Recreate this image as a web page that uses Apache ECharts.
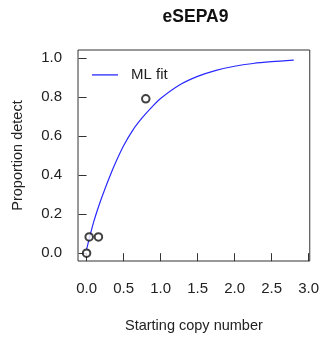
<!DOCTYPE html>
<html>
<head>
<meta charset="utf-8">
<script src="https://cdn.jsdelivr.net/npm/echarts@6/dist/echarts.min.js"></script>
<style>html,body{margin:0;padding:0;background:#fff}#c{width:322px;height:339px}</style>
</head>
<body>
<div id="c"></div>
<script>
var titleText = 'eSEPA9';
var xName = 'Starting copy number';
var yName = 'Proportion detect';
var legendName = 'ML fit';
var obsX = [0, 0.035, 0.16, 0.8];
var obsY = [0, 0.083, 0.083, 0.79];
var fitX = [0, 0.05, 0.1, 0.15, 0.2, 0.3, 0.4, 0.5, 0.625, 0.75, 0.875, 1.0, 1.25, 1.5, 1.75, 2.0, 2.25, 2.5, 2.8];
var fitY = [0.02, 0.095, 0.165, 0.225, 0.28, 0.38, 0.47, 0.55, 0.63, 0.692, 0.745, 0.792, 0.86, 0.905, 0.936, 0.957, 0.971, 0.98, 0.988];
var xTicks = [0, 0.5, 1.0, 1.5, 2.0, 2.5, 3.0];
var yTicks = [0, 0.2, 0.4, 0.6, 0.8, 1.0];

var FONT = 'Liberation Sans, Arial, sans-serif';
var chart = echarts.init(document.getElementById('c'), null, {renderer: 'canvas'});
chart.setOption({
  animation: false,
  backgroundColor: '#fff',
  graphic: [{
    type: 'text', x: 195.5, y: 17,
    style: {text: titleText, fontFamily: FONT, fontWeight: 'bold', fontSize: 17.5, fill: '#111', align: 'center', verticalAlign: 'middle'}
  }],
  legend: {
    data: [{name: legendName, icon: 'rect'}], left: 92, top: 67.4, padding: 0,
    itemWidth: 26, itemHeight: 1.3,
    textStyle: {fontFamily: FONT, fontSize: 15, color: '#222', padding: [0, 0, 0, 8]}
  },
  grid: {left: 78, right: 9, top: 50, bottom: 78, show: true, borderColor: '#333', borderWidth: 1, backgroundColor: 'transparent'},
  xAxis: {
    type: 'value', min: -0.116, max: 3.016,
    name: xName, nameLocation: 'middle', nameGap: 57,
    nameTextStyle: {fontFamily: FONT, fontSize: 14.5, color: '#222'},
    axisLine: {show: false},
    splitLine: {show: false},
    axisTick: {show: true, length: 8, customValues: xTicks, lineStyle: {color: '#333'}},
    axisLabel: {customValues: xTicks, margin: 20, fontFamily: FONT, fontSize: 15, color: '#222',
      formatter: function (v) { return Number(v).toFixed(1); }}
  },
  yAxis: {
    type: 'value', min: -0.04, max: 1.04,
    name: yName, nameLocation: 'middle', nameGap: 53,
    nameTextStyle: {fontFamily: FONT, fontSize: 14.5, color: '#222'},
    axisLine: {show: false},
    splitLine: {show: false},
    axisTick: {show: true, length: 8, customValues: yTicks, lineStyle: {color: '#333'}},
    axisLabel: {customValues: yTicks, margin: 16, fontFamily: FONT, fontSize: 15, color: '#222',
      formatter: function (v) { return Number(v).toFixed(1); }}
  },
  series: [
    {
      name: legendName, type: 'line', smooth: 0.3, symbol: 'none',
      lineStyle: {color: '#2a2aff', width: 1.2}, itemStyle: {color: '#2a2aff'},
      data: fitX.map(function (x, i) { return [x, fitY[i]]; }), z: 2
    },
    {
      name: 'observed', type: 'scatter', symbol: 'emptyCircle', symbolSize: 7.5,
      itemStyle: {color: '#111', borderColor: '#111', borderWidth: 1},
      data: obsX.map(function (x, i) { return [x, obsY[i]]; }), z: 3
    }
  ]
});
</script>
</body>
</html>
